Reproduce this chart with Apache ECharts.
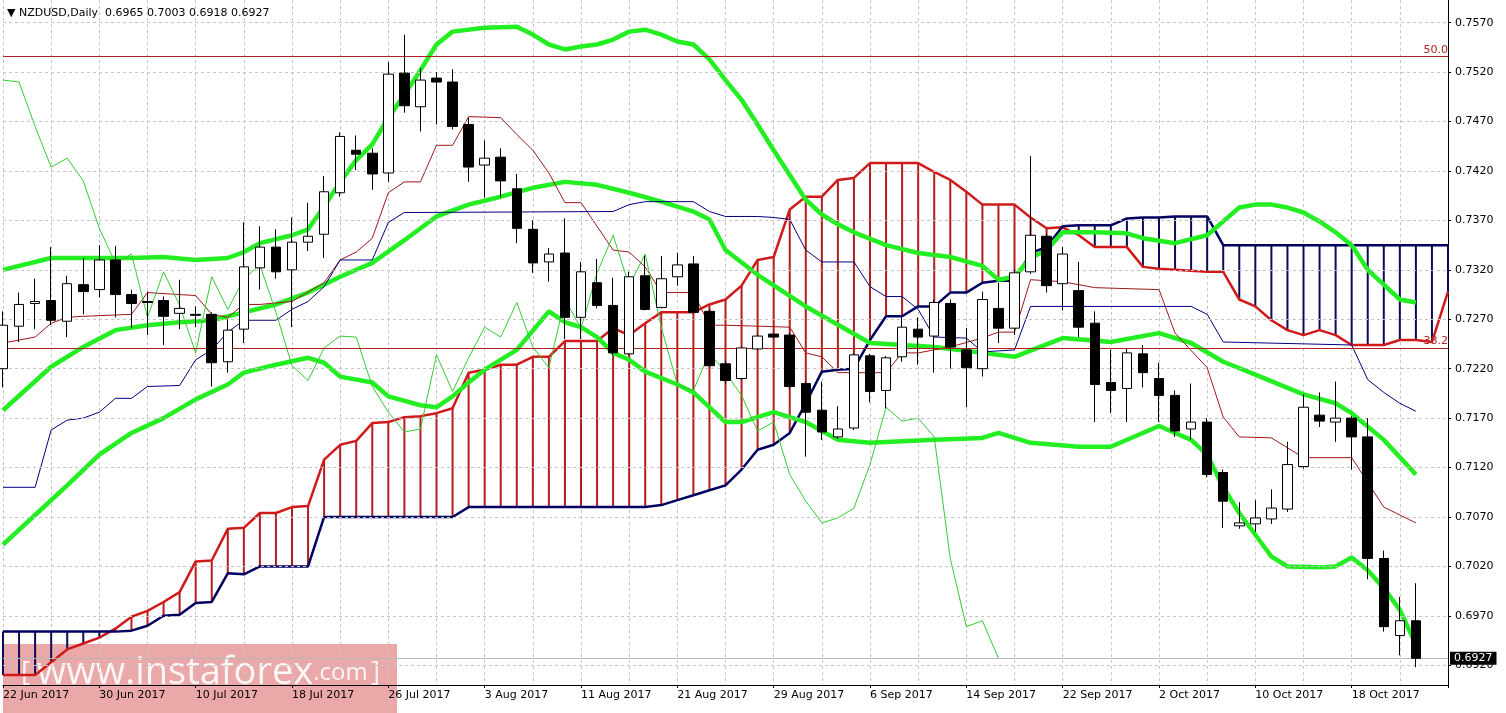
<!DOCTYPE html>
<html>
<head>
<meta charset="utf-8">
<script src="https://cdn.jsdelivr.net/npm/echarts@6/dist/echarts.min.js"></script>
<style>
  html, body { margin: 0; padding: 0; background: #fff; }
  #chart { width: 1506px; height: 713px; }
</style>
</head>
<body>
<div id="chart"></div>
<script>
// NZDUSD daily, Ichimoku + Bollinger

// trading days from 22 Jun 2017 (weekdays), 89 bars + 2 bars of forward cloud
const dates = [];
(function () {
    const MONTHS = ["Jan","Feb","Mar","Apr","May","Jun","Jul","Aug","Sep","Oct","Nov","Dec"];
    const d = new Date(Date.UTC(2017, 5, 22));
    while (dates.length < 91) {
        const wd = d.getUTCDay();
        if (wd !== 0 && wd !== 6) dates.push(d.getUTCDate() + " " + MONTHS[d.getUTCMonth()] + " 2017");
        d.setUTCDate(d.getUTCDate() + 1);
    }
})();

const opens  = [.7220,.7263,.7286,.7289,.7268,.7305,.7300,.7330,.7295,.7288,.7289,.7276,.7275,.7275,.7227,.7260,.7322,.7343,.7320,.7348,
                .7356,.7398,.7441,.7438,.7418,.7519,.7485,.7514,.7510,.7467,.7426,.7434,.7402,.7361,.7328,.7337,.7272,.7307,.7284,.7235,
                .7314,.7282,.7313,.7326,.7278,.7225,.7210,.7240,.7255,.7254,.7205,.7178,.7151,.7160,.7233,.7198,.7232,.7260,.7253,.7286,
                .7239,.7220,.7281,.7261,.7318,.7354,.7306,.7299,.7266,.7206,.7200,.7235,.7210,.7193,.7159,.7166,.7115,.7061,.7063,.7068,
                .7078,.7121,.7173,.7166,.7170,.7151,.7028,.6950,.6965];
const closes = [.7264,.7285,.7288,.7269,.7306,.7298,.7330,.7295,.7286,.7287,.7273,.7281,.7274,.7226,.7259,.7323,.7343,.7318,.7348,.7354,
                .7399,.7455,.7437,.7417,.7518,.7486,.7512,.7510,.7465,.7424,.7433,.7410,.7362,.7327,.7336,.7272,.7318,.7284,.7236,.7313,
                .7280,.7311,.7325,.7277,.7223,.7208,.7241,.7253,.7252,.7202,.7176,.7156,.7159,.7234,.7197,.7231,.7262,.7252,.7287,.7242,
                .7221,.7290,.7261,.7317,.7355,.7304,.7336,.7262,.7204,.7198,.7236,.7216,.7193,.7157,.7166,.7113,.7086,.7064,.7069,.7079,
                .7123,.7181,.7167,.7170,.7151,.7028,.6959,.6965,.6927];
const lows   = [.7201,.7247,.7260,.7264,.7252,.7275,.7292,.7272,.7261,.7254,.7244,.7260,.7262,.7202,.7216,.7246,.7300,.7311,.7262,.7339,
                .7332,.7394,.7421,.7401,.7409,.7479,.7460,.7467,.7462,.7409,.7393,.7393,.7347,.7317,.7308,.7250,.7250,.7281,.7234,.7234,
                .7279,.7281,.7304,.7276,.7222,.7205,.7209,.7239,.7251,.7200,.7131,.7148,.7149,.7158,.7186,.7180,.7227,.7224,.7216,.7220,
                .7181,.7212,.7246,.7254,.7316,.7297,.7279,.7252,.7166,.7175,.7166,.7201,.7166,.7151,.7148,.7110,.7059,.7058,.7055,.7063,
                .7075,.7119,.7161,.7146,.7118,.7007,.6954,.6930,.6918];
const highs  = [.7278,.7297,.7311,.7343,.7314,.7332,.7345,.7344,.7300,.7298,.7293,.7310,.7283,.7277,.7270,.7368,.7364,.7361,.7373,.7388,
                .7415,.7459,.7456,.7443,.7530,.7558,.7524,.7520,.7523,.7474,.7451,.7443,.7417,.7370,.7342,.7372,.7328,.7331,.7312,.7318,
                .7334,.7334,.7337,.7334,.7280,.7228,.7241,.7255,.7256,.7256,.7207,.7207,.7182,.7236,.7235,.7233,.7272,.7272,.7290,.7290,
                .7261,.7298,.7307,.7320,.7435,.7356,.7343,.7328,.7278,.7239,.7240,.7244,.7226,.7198,.7205,.7170,.7118,.7085,.7087,.7098,
                .7146,.7194,.7196,.7207,.7172,.7170,.7036,.6989,.7003];

// Bollinger bands, [bar, price]
const bbUpper = [[0,.7320],[3,.7332],[6,.7332],[8,.7332],[10,.7333],[12,.7330],[14,.7332],[15,.7338],[16,.7347],[18,.7355],[19,.7361],
    [20,.7384],[21,.7409],[22,.7431],[23,.7447],[24,.7474],[25,.7497],[26,.7522],[27,.7548],[28,.7561],[30,.7565],[32,.7566],[33,.7558],
    [34,.7548],[35,.7543],[36,.7546],[37,.7548],[38,.7553],[39,.7561],[40,.7563],[41,.7558],[42,.7551],[43,.7548],[44,.7533],[45,.7512],
    [46,.7492],[47,.7467],[48,.7441],[49,.7416],[50,.7391],[51,.7376],[52,.7366],[53,.7358],[55,.7345],[57,.7337],[59,.7333],[61,.7324],
    [62,.7310],[63,.7313],[64,.7332],[65,.7340],[66,.7358],[68,.7358],[70,.7357],[71,.7352],[73,.7347],[75,.7355],[76,.7369],[77,.7383],
    [78,.7386],[79,.7386],[80,.7383],[81,.7378],[82,.7369],[83,.7358],[84,.7345],[85,.7320],[86,.7305],[87,.7290],[88,.7287]];
const bbMiddle = [[0,.7178],[3,.7222],[5,.7242],[7,.7259],[9,.7264],[11,.7267],[13,.7269],[15,.7277],[17,.7285],[19,.7297],[21,.7313],
    [23,.7327],[25,.7350],[27,.7374],[29,.7386],[31,.7394],[33,.7403],[35,.7409],[37,.7406],[39,.7398],[41,.7389],[43,.7379],[44,.7371],
    [45,.7340],[47,.7315],[50,.7283],[54,.7246],[58,.7242],[61,.7236],[63,.7232],[66,.7251],[69,.7247],[72,.7256],[74,.7246],[76,.7227],
    [78,.7214],[81,.7194],[83,.7185],[84,.7175],[86,.7148],[88,.7113]];
const bbLower = [[0,.7042],[2,.7072],[4,.7102],[6,.7133],[8,.7155],[10,.7170],[12,.7189],[14,.7204],[15,.7216],[17,.7224],[19,.7231],
    [20,.7226],[21,.7212],[23,.7206],[24,.7192],[26,.7183],[27,.7181],[28,.7192],[29,.7206],[30,.7219],[32,.7239],[34,.7278],[35,.7267],
    [36,.7262],[37,.7252],[38,.7236],[39,.7229],[40,.7217],[42,.7204],[43,.7196],[45,.7166],[46,.7166],[48,.7176],[50,.7166],[52,.7148],
    [54,.7145],[58,.7148],[61,.7150],[62,.7155],[64,.7145],[67,.7141],[69,.7141],[72,.7162],[74,.7148],[75,.7133],[76,.7100],[77,.7074],
    [79,.7030],[80,.7020],[82,.7019],[83,.7020],[84,.7029],[85,.7016],[86,.6998],[87,.6976],[88,.6941]];

// Ichimoku lines, [bar, price]
const tenkan = [[0,.7246],[2,.7252],[3,.7266],[4,.7272],[5,.7273],[8,.7275],[9,.7297],[12,.7294],[13,.7275],[14,.7272],[15,.7285],
    [16,.7285],[18,.7288],[20,.7307],[21,.7330],[22,.7338],[23,.7352],[24,.7398],[25,.7409],[26,.7409],[27,.7446],[28,.7446],[29,.7475],
    [31,.7474],[32,.7457],[33,.7441],[34,.7418],[35,.7388],[36,.7388],[37,.7364],[38,.7340],[39,.7338],[40,.7323],[41,.7297],[43,.7297],
    [44,.7264],[45,.7264],[49,.7262],[50,.7236],[51,.7232],[52,.7216],[55,.7216],[56,.7236],[57,.7236],[59,.7242],[61,.7251],[62,.7257],
    [63,.7257],[64,.7310],[66,.7308],[68,.7302],[72,.7300],[73,.7256],[75,.7221],[76,.7171],[77,.7151],[79,.7150],[81,.7130],[84,.7130],
    [86,.7080],[87,.7072],[88,.7064]];
const kijun = [[0,.7100],[2,.7100],[3,.7158],[4,.7168],[5,.7170],[6,.7176],[7,.7190],[8,.7190],[9,.7202],[11,.7203],[12,.7229],
    [13,.7239],[14,.7257],[15,.7269],[17,.7269],[18,.7280],[19,.7288],[20,.7303],[21,.7330],[23,.7330],[24,.7368],[25,.7378],[38,.7379],
    [39,.7386],[40,.7389],[43,.7389],[44,.7379],[45,.7374],[47,.7374],[48,.7373],[49,.7371],[50,.7340],[51,.7328],[53,.7328],[54,.7303],
    [55,.7293],[56,.7293],[57,.7280],[58,.7252],[60,.7251],[61,.7237],[63,.7239],[64,.7283],[74,.7283],[75,.7275],[76,.7247],[84,.7244],
    [85,.7209],[86,.7196],[87,.7185],[88,.7177]];
const spanA = [.6910,.6910,.6910,.6923,.6936,.6942,.6948,.6957,.6969,.6975,.6984,.6994,.7025,.7026,.7058,.7059,.7074,.7074,.7080,.7081,
    .7128,.7143,.7147,.7165,.7166,.7171,.7172,.7175,.7180,.7216,.7219,.7224,.7224,.7232,.7232,.7248,.7248,.7248,.7261,.7254,
    .7266,.7277,.7277,.7277,.7285,.7290,.7304,.7330,.7333,.7381,.7394,.7394,.7411,.7413,.7428,.7428,.7428,.7428,.7419,.7411,
    .7399,.7386,.7386,.7386,.7373,.7362,.7363,.7355,.7343,.7343,.7343,.7323,.7321,.7320,.7319,.7318,.7318,.7290,.7283,.7269,
    .7259,.7254,.7259,.7254,.7244,.7244,.7244,.7249,.7249,.7247,.7298];
const spanB = [.6954,.6954,.6954,.6954,.6954,.6954,.6954,.6954,.6955,.6960,.6970,.6971,.6983,.6984,.7013,.7012,.7020,.7020,.7020,.7020,
    .7070,.7070,.7070,.7070,.7070,.7070,.7070,.7070,.7070,.7080,.7080,.7080,.7080,.7080,.7080,.7080,.7080,.7080,.7080,.7080,
    .7080,.7082,.7087,.7092,.7097,.7102,.7118,.7138,.7143,.7155,.7185,.7217,.7219,.7220,.7249,.7273,.7273,.7283,.7283,.7297,
    .7297,.7307,.7309,.7309,.7337,.7343,.7364,.7365,.7365,.7365,.7372,.7373,.7373,.7374,.7374,.7374,.7345,.7345,.7345,.7345,
    .7345,.7345,.7345,.7345,.7345,.7345,.7345,.7345,.7345,.7345,.7345];

const yTicks = [.7570,.7520,.7470,.7420,.7370,.7320,.7270,.7220,.7170,.7120,.7070,.7020,.6970,.6920];
const fibLevels = [{ v: .7536, name: "50.0" }, { v: .7241, name: "38.2" }];
const lastPrice = .6927;

const chart = echarts.init(document.getElementById("chart"));
const FONT = "DejaVu Sans";
const candles = opens.map((o, i) => [o, closes[i], lows[i], highs[i]]);
const chikou = closes.slice(26).map((c, j) => [j, c]);

const lineS = (name, data, color, width) => ({
    name, type: "line", data, symbol: "none", silent: true,
    lineStyle: { color, width }, z: 3
});

chart.setOption({
    backgroundColor: "#fff",
    animation: false,
    title: {
        text: "\u25BC NZDUSD,Daily  0.6965 0.7003 0.6918 0.6927",
        left: 2, top: 3,
        textStyle: { fontFamily: FONT, fontSize: 11, fontWeight: "normal", color: "#000" }
    },
    grid: { left: 1, right: 58, top: 0, bottom: 28 },
    xAxis: {
        type: "category", data: dates, boundaryGap: false,
        axisLine: { lineStyle: { color: "#000" } },
        axisTick: { interval: 5, length: 3, lineStyle: { color: "#000" } },
        axisLabel: {
            interval: 5, align: "left", margin: 5, color: "#000",
            fontFamily: FONT, fontSize: 11,
            formatter: (v, i) => (i >= 89 ? "" : v)
        },
        splitLine: { show: true, interval: 2, lineStyle: { color: "#c4c4c4", type: [3, 3] } }
    },
    yAxis: {
        type: "value", position: "right", min: .6900, max: .7593, scale: true,
        axisLine: { show: true, lineStyle: { color: "#000" } },
        axisTick: { show: true, customValues: yTicks, length: 3, lineStyle: { color: "#000" } },
        axisLabel: {
            customValues: yTicks, color: "#000", fontFamily: FONT, fontSize: 11, margin: 7,
            formatter: (v) => v.toFixed(4)
        },
        splitLine: { show: false }
    },
    series: [
        {
            name: "grid", type: "line", data: [], silent: true,
            markLine: {
                symbol: "none", silent: true, precision: 4, label: { show: false },
                lineStyle: { color: "#c4c4c4", type: [3, 3], width: 1 },
                data: yTicks.map(v => ({ yAxis: v }))
            }
        },
        {
            name: "cloud", type: "custom", silent: true, z: 2,
            data: spanA.map((a, i) => [i, a, spanB[i]]),
            renderItem: (params, api) => {
                const p1 = api.coord([api.value(0), api.value(1)]);
                const p2 = api.coord([api.value(0), api.value(2)]);
                const up = api.value(1) > api.value(2);
                return {
                    type: "line",
                    shape: { x1: p1[0], y1: p1[1], x2: p2[0], y2: p2[1] },
                    style: { stroke: up ? "#b41c1c" : "#0a0a5a", lineWidth: 2 }
                };
            }
        },
        lineS("Senkou A", spanA.map((v, i) => [i, v]), "#d01a1a", 2.5),
        lineS("Senkou B", spanB.map((v, i) => [i, v]), "#000060", 2.5),
        lineS("BB upper", bbUpper, "#22ee22", 4.5),
        lineS("BB middle", bbMiddle, "#22ee22", 4.5),
        lineS("BB lower", bbLower, "#22ee22", 4.5),
        lineS("Tenkan", tenkan, "#a01818", 1),
        lineS("Kijun", kijun, "#000080", 1),
        lineS("Chikou", chikou, "#33cc33", 1),
        {
            name: "fib", type: "line", data: [], silent: true,
            markLine: {
                symbol: "none", silent: true, precision: 4,
                lineStyle: { color: "#b02020", type: "solid", width: 1 },
                label: {
                    position: "insideEndTop", color: "#b02020", fontFamily: FONT, fontSize: 11,
                    distance: [0, 1], formatter: (p) => p.name
                },
                data: fibLevels.map(f => ({ yAxis: f.v, name: f.name }))
            }
        },
        {
            name: "NZDUSD", type: "candlestick", data: candles, barWidth: 10, z: 5,
            itemStyle: { color: "#fff", color0: "#000", borderColor: "#000", borderColor0: "#000", borderWidth: 1 },
            markLine: {
                symbol: "none", silent: true, precision: 4,
                lineStyle: { color: "#b8b8b8", type: "solid", width: 1 },
                label: {
                    position: "end", distance: 2, color: "#fff", backgroundColor: "#000",
                    fontFamily: FONT, fontSize: 11, padding: [1, 4],
                    formatter: () => lastPrice.toFixed(4)
                },
                data: [{ yAxis: lastPrice }]
            }
        }
    ],
    graphic: [{
        type: "group", left: 3, top: 644, z: 100,
        children: [
            { type: "rect", shape: { width: 394, height: 69 }, style: { fill: "rgba(222,110,110,0.6)" } },
            {
                type: "text", left: 18, top: 10,
                style: {
                    text: "{b|[}  {w|www.instaforex}{c|.com} {b|]}",
                    rich: {
                        b: { fontSize: 28, fill: "rgba(255,255,255,0.85)", fontFamily: "Open Sans" },
                        w: { fontSize: 38, fill: "rgba(255,255,255,0.9)", fontFamily: "Open Sans" },
                        c: { fontSize: 24, fill: "rgba(255,255,255,0.9)", fontFamily: "Open Sans" }
                    }
                }
            }
        ]
    }]
});

window.addEventListener("resize", () => chart.resize());
</script>
</body>
</html>
